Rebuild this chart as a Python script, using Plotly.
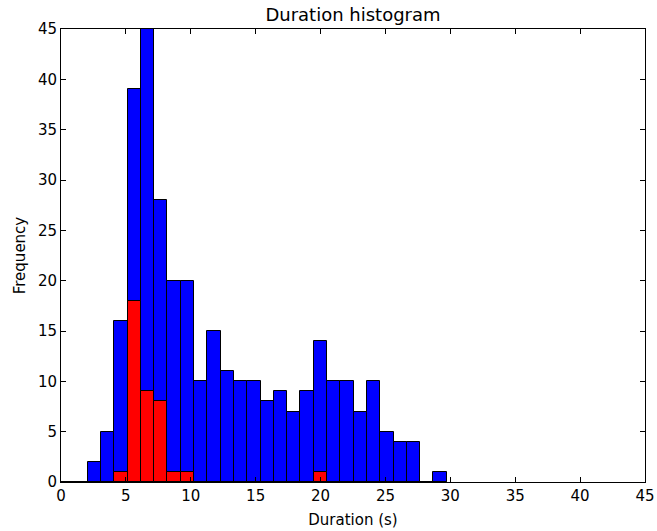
import numpy as np
import plotly.graph_objects as go

# Histogram data (29 bins from 0 to ~29.72 s)
bin_min = 0.0
bin_max = 29.72
n_bins = 29
all_counts = [0, 0, 2, 5, 16, 39, 45, 28, 20, 20, 10, 15, 11, 10, 10, 8, 9, 7, 9, 14,
              10, 10, 7, 10, 5, 4, 4, 0, 1]
subset_counts = [0, 0, 0, 0, 1, 18, 9, 8, 1, 1, 0, 0, 0, 0, 0, 0, 0, 0, 0, 1,
                 0, 0, 0, 0, 0, 0, 0, 0, 0]
x_ticks = [0, 5, 10, 15, 20, 25, 30, 35, 40, 45]
y_ticks = [0, 5, 10, 15, 20, 25, 30, 35, 40, 45]

edges = np.linspace(bin_min, bin_max, n_bins + 1)
centers = (edges[:-1] + edges[1:]) / 2
widths = np.diff(edges)

font = "DejaVu Sans"

fig = go.Figure()
fig.add_trace(go.Bar(x=centers, y=all_counts, width=widths,
                     marker=dict(color="#0000ff", line=dict(color="black", width=1)),
                     showlegend=False))
fig.add_trace(go.Bar(x=centers, y=subset_counts, width=widths,
                     marker=dict(color="#ff0000", line=dict(color="black", width=1)),
                     showlegend=False))

axis_common = dict(showline=True, linecolor="black", linewidth=1, mirror="allticks",
                   ticks="inside", ticklen=5, tickcolor="black", tickwidth=1,
                   showgrid=False, zeroline=False, automargin=False,
                   tickfont=dict(family=font, size=15, color="black"))

fig.update_layout(
    barmode="overlay",
    width=657, height=531,
    margin=dict(l=61, r=12, t=29, b=49),
    paper_bgcolor="white", plot_bgcolor="white",
    title=dict(text="Duration histogram", x=0.5, xref="paper", xanchor="center",
               y=1, yref="paper", yanchor="bottom", pad=dict(b=8),
               font=dict(family=font, size=18, color="black")),
    xaxis=dict(range=[0, 45], tickvals=x_ticks,
               title=dict(text="Duration (s)", font=dict(family=font, size=15, color="black"), standoff=10),
               **axis_common),
    yaxis=dict(range=[0, 45], tickvals=y_ticks,
               title=dict(text="Frequency", font=dict(family=font, size=15, color="black"), standoff=8),
               **axis_common),
    bargap=0,
)

fig.write_html("out.html")
